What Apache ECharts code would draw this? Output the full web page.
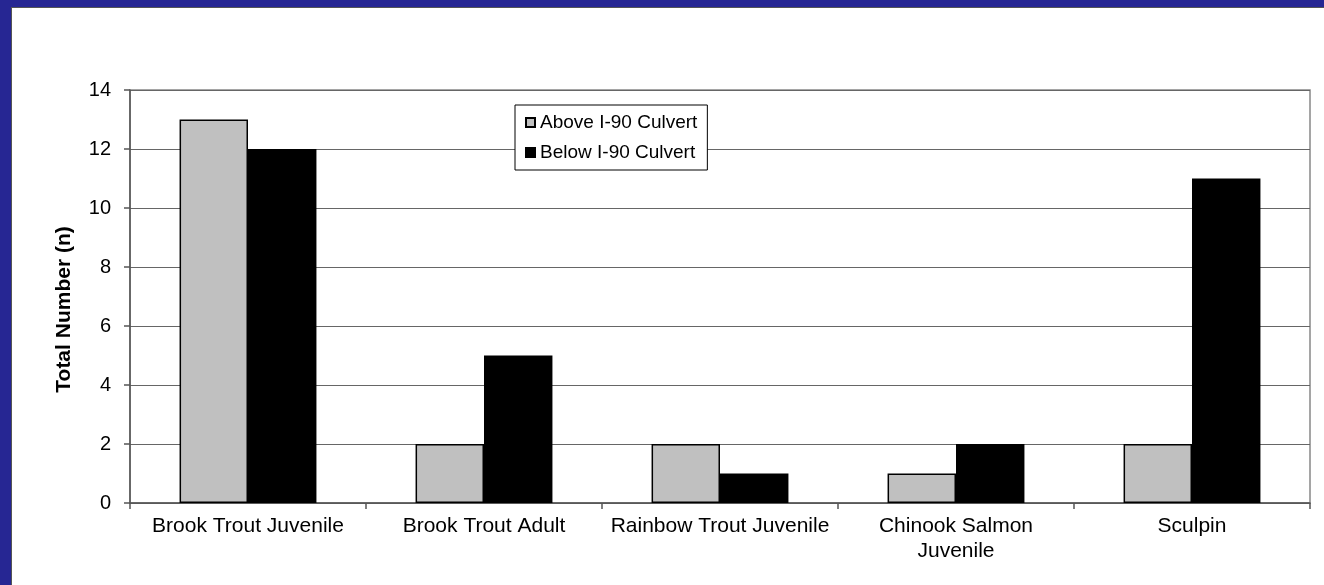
<!DOCTYPE html>
<html><head><meta charset="utf-8">
<script src="https://cdn.jsdelivr.net/npm/echarts@6/dist/echarts.min.js"></script>
<style>
html,body{margin:0;padding:0;background:#fff;}
#frame{position:absolute;left:0;top:0;width:1324px;height:585px;background:#262693;}
#inner{position:absolute;left:11px;top:7px;width:1313px;height:578px;background:#fff;border-left:1px solid #555;border-top:1px solid #555;box-sizing:border-box;}
#chart{position:absolute;left:0;top:0;width:1324px;height:585px;}
</style></head>
<body>
<div id="frame"></div><div id="inner"></div>
<div id="chart"></div>
<script>
var categories = ['Brook Trout Juvenile','Brook Trout Adult','Rainbow Trout Juvenile','Chinook Salmon\nJuvenile','Sculpin'];
var aboveValues = [13, 2, 2, 1, 2];
var belowValues = [12, 5, 1, 2, 11];
var seriesNames = ['Above I-90 Culvert','Below I-90 Culvert'];
var yTicks = {min:0, max:14, interval:2};

var chart = echarts.init(document.getElementById('chart'), null, {renderer:'canvas'});
var font = 'Arial, "Liberation Sans", sans-serif';
chart.setOption({
  animation:false,
  backgroundColor:'transparent',
  grid:{left:130,right:14,top:90,bottom:82,show:true,borderColor:'#888',borderWidth:1.5,backgroundColor:'transparent'},
  legend:{
    orient:'vertical',left:515,top:105,
    itemWidth:9,itemHeight:9,itemGap:11,itemTextGap:9,
    padding:[8,10,8,10],
    borderColor:'#000',borderWidth:1,backgroundColor:'#fff',
    textStyle:{fontFamily:font,fontSize:19,color:'#000'},
    icon:'rect',
    data:seriesNames
  },
  xAxis:{
    type:'category',data:categories,
    axisLine:{lineStyle:{color:'#555',width:1.5}},
    axisTick:{show:true,interval:0,alignWithLabel:false,length:6,lineStyle:{color:'#555',width:1.5}},
    axisLabel:{interval:0,hideOverlap:false,fontFamily:font,fontSize:21,color:'#000',margin:11,lineHeight:25}
  },
  yAxis:{
    type:'value',min:yTicks.min,max:yTicks.max,interval:yTicks.interval,
    name:'Total Number (n)',nameLocation:'middle',nameGap:55,
    nameTextStyle:{fontFamily:font,fontSize:21,fontWeight:'bold',color:'#000',padding:[0,26,0,0]},
    axisLine:{show:true,lineStyle:{color:'#555',width:1.5}},
    axisTick:{show:true,length:6,lineStyle:{color:'#555',width:1.5}},
    axisLabel:{fontFamily:font,fontSize:20,color:'#000',margin:19},
    splitLine:{show:true,lineStyle:{color:'#666',width:1}}
  },
  series:[
    {name:seriesNames[0],type:'bar',data:aboveValues,barGap:'0%',barCategoryGap:'42%',
     itemStyle:{color:'#c0c0c0',borderColor:'#000',borderWidth:1.5}},
    {name:seriesNames[1],type:'bar',data:belowValues,barGap:'0%',barCategoryGap:'42%',
     itemStyle:{color:'#000',borderColor:'#000',borderWidth:1.5}}
  ]
});
</script>
</body></html>
